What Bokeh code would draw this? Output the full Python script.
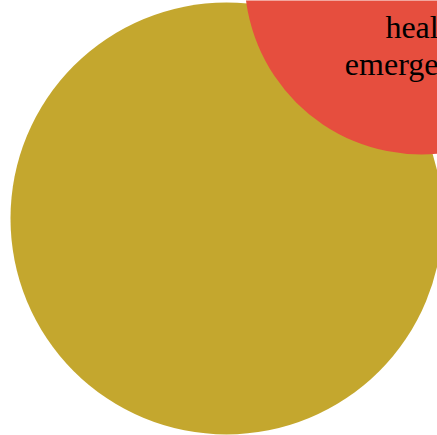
from bokeh.plotting import figure
from bokeh.models import ColumnDataSource, Range1d
from bokeh.embed import file_html
from bokeh.resources import INLINE
from bokeh.core.properties import value

# Bubble data (screen-like units, y grows downward)
names = ["other", "health emergencies"]
cx = [226, 421]
cy = [218, -23]
radii = [216, 177]
colors = ["#C4A72E", "#E64E3E"]

# Label lines of the red bubble
label_lines = ["health", "emergencies"]
label_x = [424, 424]
label_y = [26, 63]

W, H = 437, 435
p = figure(width=W, height=H, output_backend="svg", toolbar_location=None,
           x_range=Range1d(0, W), y_range=Range1d(H, 0),
           min_border=0, background_fill_color="white",
           border_fill_color="white", outline_line_color=None)
p.axis.visible = False
p.grid.visible = False
p.styles = {"position": "absolute", "left": "0px", "top": "0px"}

src = ColumnDataSource(dict(x=cx, y=cy, r=radii, c=colors, name=names))
p.circle(x="x", y="y", radius="r", fill_color="c", line_color=None, source=src)

lsrc = ColumnDataSource(dict(x=label_x, y=label_y, t=label_lines))
p.text(x="x", y="y", text="t", source=lsrc, text_font=value("Liberation Serif"),
       text_font_size="32px", text_align="center", text_baseline="alphabetic",
       text_color="black")

open("out.html", "w").write(file_html(p, INLINE))
